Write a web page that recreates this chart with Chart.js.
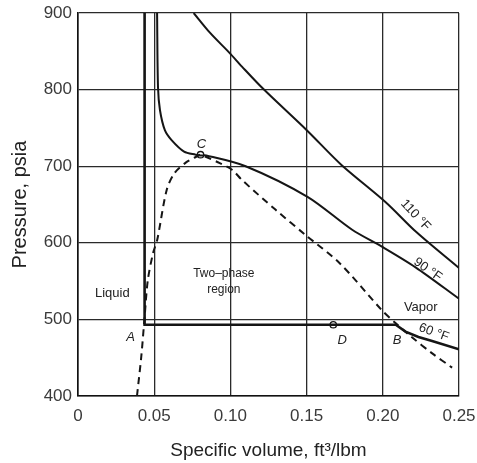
<!DOCTYPE html>
<html>
<head>
<meta charset="utf-8">
<script src="https://cdn.jsdelivr.net/npm/chart.js@4/dist/chart.umd.min.js"></script>
<style>
  html, body { margin: 0; padding: 0; background: #fff; }
  .chart-container { position: relative; width: 477px; height: 463px; }
</style>
</head>
<body>
<div class="chart-container">
  <canvas id="chart"></canvas>
</div>
<script>
// specific volume (ft3/lbm) and pressure (psia)
const domeV = [0.0387, 0.0415, 0.0437, 0.0458, 0.0493, 0.052, 0.0582, 0.0633, 0.0709, 0.0772, 0.0804,
  0.0842, 0.093, 0.1013, 0.1076, 0.1297, 0.1494, 0.1714, 0.1994, 0.2085, 0.2189, 0.2322, 0.2455]
const domeP = [400, 451, 503, 551, 587, 604, 669, 691, 705, 712, 715,
  712, 704, 695, 682, 643, 610, 574, 512, 495, 477, 456, 437]

const iso60V = [0.0437, 0.0437, 0.2085, 0.2149, 0.2234, 0.2318, 0.25]
const iso60P = [900, 493, 493, 484, 477, 472, 461]

const iso90V = [0.0519, 0.0525, 0.0538, 0.057, 0.0614, 0.0696, 0.0772, 0.0804, 0.0842, 0.11, 0.1506, 0.1799, 0.1994, 0.2215, 0.25]
const iso90P = [900, 803, 773, 747, 734, 719, 715, 714, 714, 700, 660, 617, 595, 568, 527]

const iso110V = [0.0759, 0.0867, 0.0994, 0.1076, 0.1215, 0.1506, 0.1727, 0.2019, 0.222, 0.25]
const iso110P = [900, 874, 848, 830, 801, 746, 702, 653, 614, 567]

const pointNames = ['C', 'D']
const pointV = [0.0804, 0.1675]
const pointP = [715, 493]

const xTickLabels = ['0', '0.05', '0.10', '0.15', '0.20', '0.25']

const FONT = 'Liberation Sans, Arial, sans-serif'
const toXY = (xs, ys) => xs.map((x, i) => ({ x: x, y: ys[i] }))

// text written on the plot, placed in data units
const notes = [
  { text: 'C', v: 0.081, p: 729, italic: true },
  { text: 'A', v: 0.0345, p: 477, italic: true },
  { text: 'D', v: 0.1734, p: 473, italic: true },
  { text: 'B', v: 0.2094, p: 473, italic: true },
  { text: 'Liquid', v: 0.0225, p: 534 },
  { text: 'Two\u2013phase', v: 0.0957, p: 560, size: 12 },
  { text: 'region', v: 0.0957, p: 539, size: 12 },
  { text: 'Vapor', v: 0.2249, p: 515 },
  { text: '110 °F', v: 0.2215, p: 636, angle: 47 },
  { text: '90 °F', v: 0.2295, p: 565, angle: 35 },
  { text: '60 °F', v: 0.2335, p: 483, angle: 20 },
]

const notesPlugin = {
  id: 'notes',
  afterDatasetsDraw(chart) {
    const { ctx, scales } = chart
    ctx.save()
    ctx.fillStyle = '#222'
    ctx.textAlign = 'center'
    ctx.textBaseline = 'middle'
    notes.forEach((n) => {
      const x = scales.x.getPixelForValue(n.v)
      const y = scales.y.getPixelForValue(n.p)
      ctx.save()
      ctx.translate(x, y)
      if (n.angle) ctx.rotate((n.angle * Math.PI) / 180)
      ctx.font = (n.italic ? 'italic ' : '') + (n.size || 13) + 'px ' + FONT
      ctx.fillText(n.text, 0, 0)
      ctx.restore()
    })
    ctx.restore()
  },
}

const lineStyle = {
  showLine: true,
  borderColor: '#151515',
  backgroundColor: '#151515',
  pointRadius: 0,
  fill: false,
}

const config = {
  type: 'scatter',
  data: {
    datasets: [
      { ...lineStyle, label: 'Saturation', data: toXY(domeV, domeP), borderWidth: 2, borderDash: [7, 5], tension: 0.3 },
      { ...lineStyle, label: '60 °F', data: toXY(iso60V, iso60P), borderWidth: 2.6, tension: 0 },
      { ...lineStyle, label: '90 °F', data: toXY(iso90V, iso90P), borderWidth: 2, tension: 0.3 },
      { ...lineStyle, label: '110 °F', data: toXY(iso110V, iso110P), borderWidth: 2, tension: 0.3 },
      {
        label: 'States',
        data: toXY(pointV, pointP),
        showLine: false,
        pointRadius: 3.2,
        pointBackgroundColor: '#fff',
        pointBorderColor: '#151515',
        pointBorderWidth: 1.3,
      },
    ],
  },
  options: {
    responsive: true,
    maintainAspectRatio: false,
    animation: false,
    layout: { padding: { top: 13, right: 18, left: 0, bottom: 0 } },
    plugins: {
      legend: { display: false },
      tooltip: { enabled: false },
    },
    scales: {
      x: {
        type: 'linear',
        min: 0,
        max: 0.25,
        afterFit: (s) => {
          s.height = 67
          s.paddingLeft = 0
          s.paddingRight = 0
        },
        grid: { color: '#2a2a2a', lineWidth: 1.3, drawTicks: false },
        border: { color: '#111', width: 1.6 },
        ticks: {
          stepSize: 0.05,
          padding: 10,
          color: '#3a3a3a',
          font: { family: FONT, size: 17 },
          callback: (v, i) => xTickLabels[i],
        },
        title: {
          display: true,
          text: 'Specific volume, ft³/lbm',
          color: '#222',
          font: { family: FONT, size: 19 },
          padding: { top: 0, bottom: 1 },
        },
      },
      y: {
        min: 400,
        max: 900,
        afterFit: (s) => {
          s.width = 78
          s.paddingTop = 0
          s.paddingBottom = 0
        },
        grid: { color: '#2a2a2a', lineWidth: 1.3, drawTicks: false },
        border: { color: '#111', width: 1.6 },
        ticks: {
          stepSize: 100,
          padding: 6,
          color: '#3a3a3a',
          font: { family: FONT, size: 17 },
        },
        title: {
          display: true,
          text: 'Pressure, psia',
          color: '#222',
          font: { family: FONT, size: 20 },
          padding: { top: 8, bottom: 0 },
        },
      },
    },
  },
  plugins: [notesPlugin],
}

const myChart = new Chart(document.getElementById('chart'), config)
</script>
</body>
</html>
